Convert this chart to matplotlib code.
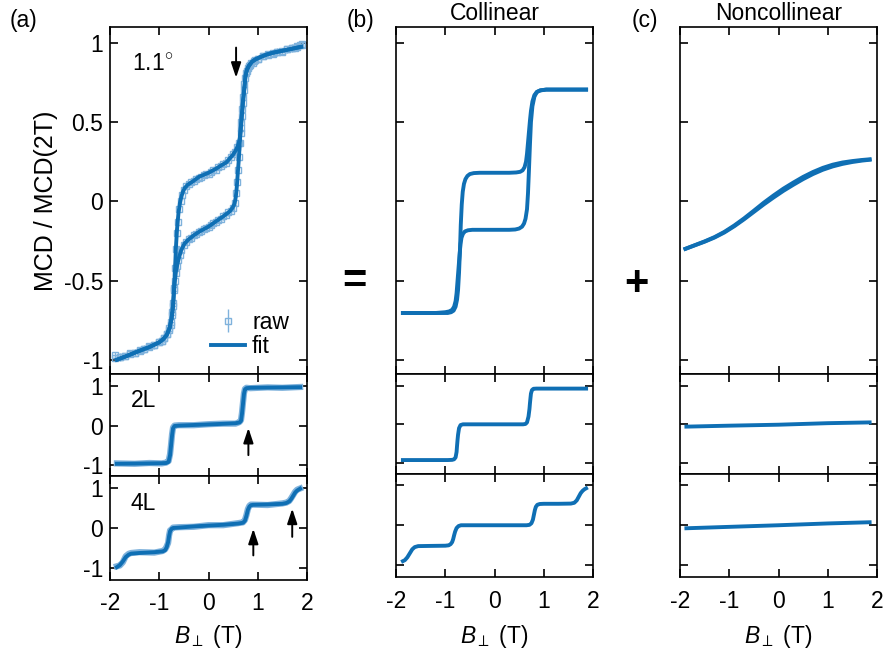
import matplotlib
matplotlib.use("Agg")
import matplotlib.pyplot as plt

plt.rcParams['font.family'] = ['Liberation Sans', 'DejaVu Sans']
plt.rcParams['mathtext.fontset'] = 'custom'
plt.rcParams['mathtext.rm'] = 'Liberation Sans'
plt.rcParams['mathtext.it'] = 'Liberation Sans:italic'
plt.rcParams['axes.unicode_minus'] = False

FIT = '#0f6fb4'
RAW = '#7fb2dc'

# ---------------- data ----------------
# (a) 1.1 deg, fit: descending (upper) branch
a_fit_B_dn = [1.88, 1.70, 1.50, 1.30, 1.17, 1.05, 0.95, 0.88, 0.82, 0.78, 0.75, 0.73, 0.70, 0.68,
              0.66, 0.64, 0.62, 0.60, 0.56, 0.50, 0.43, 0.36, 0.25, 0.15, 0.0, -0.19, -0.32, -0.42,
              -0.48, -0.52, -0.55, -0.58, -0.61, -0.64, -0.66, -0.69, -0.72, -0.75, -0.79, -0.85,
              -0.92, -1.0, -1.2, -1.43, -1.65, -1.86]
a_fit_M_dn = [0.975, 0.963, 0.95, 0.937, 0.925, 0.91, 0.895, 0.88, 0.855, 0.83, 0.79, 0.72, 0.63, 0.556,
              0.48, 0.41, 0.375, 0.355, 0.325, 0.295, 0.27, 0.245, 0.225, 0.205, 0.18, 0.155, 0.125, 0.105,
              0.085, 0.06, 0.03, -0.01, -0.075, -0.18, -0.285, -0.5, -0.66, -0.74, -0.80, -0.845,
              -0.87, -0.89, -0.92, -0.947, -0.975, -1.0]
# (a) 1.1 deg, fit: ascending (lower) branch
a_fit_B_up = [-1.86, -1.65, -1.43, -1.2, -1.0, -0.92, -0.85, -0.79, -0.75, -0.72, -0.69, -0.66, -0.63,
              -0.6, -0.555, -0.49, -0.42, -0.3, -0.18, 0.0, 0.15, 0.3, 0.43, 0.49, 0.53, 0.555, 0.575,
              0.595, 0.615, 0.64, 0.66, 0.68, 0.70, 0.73, 0.75, 0.78, 0.82, 0.88, 0.95, 1.05, 1.17,
              1.3, 1.5, 1.7, 1.88]
a_fit_M_up = [-1.0, -0.975, -0.947, -0.92, -0.89, -0.87, -0.845, -0.80, -0.74, -0.66, -0.52, -0.44, -0.395,
              -0.355, -0.31, -0.268, -0.245, -0.215, -0.19, -0.16, -0.127, -0.095, -0.064, -0.04, -0.015,
              0.03, 0.093, 0.18, 0.262, 0.39, 0.48, 0.556, 0.63, 0.72, 0.79, 0.83, 0.855, 0.88, 0.895,
              0.91, 0.925, 0.937, 0.95, 0.963, 0.975]

# (a) 1.1 deg, raw data
a_raw_B_dn = [1.9, 1.85, 1.8, 1.75, 1.7, 1.6, 1.5, 1.4, 1.3, 1.2, 1.1, 1.0, 0.95, 0.9, 0.85, 0.8,
              0.76, 0.73, 0.71, 0.69, 0.67, 0.65, 0.62, 0.58, 0.54, 0.5, 0.45, 0.4, 0.35, 0.3, 0.25,
              0.2, 0.15, 0.1, 0.05, 0.0, -0.05, -0.1, -0.15, -0.2, -0.25, -0.3, -0.35, -0.4, -0.45,
              -0.5, -0.53, -0.56, -0.59, -0.62, -0.64, -0.66, -0.68, -0.7, -0.72, -0.74, -0.77, -0.8,
              -0.85, -0.9, -0.95, -1.0, -1.1, -1.2, -1.3, -1.4, -1.5, -1.6, -1.7, -1.8, -1.9]
a_raw_M_dn = [0.99, 0.985, 0.975, 0.97, 0.965, 0.958, 0.945, 0.945, 0.93, 0.93, 0.915, 0.9, 0.89, 0.875,
              0.86, 0.84, 0.81, 0.74, 0.66, 0.58, 0.5, 0.43, 0.37, 0.34, 0.31, 0.3, 0.28, 0.26, 0.24,
              0.235, 0.22, 0.215, 0.2, 0.195, 0.185, 0.175, 0.17, 0.165, 0.155, 0.15, 0.14, 0.13, 0.12,
              0.11, 0.095, 0.07, 0.04, 0.0, -0.05, -0.13, -0.2, -0.3, -0.42, -0.55, -0.66, -0.72,
              -0.78, -0.81, -0.84, -0.865, -0.88, -0.89, -0.905, -0.92, -0.93, -0.945, -0.955, -0.965,
              -0.975, -0.985, -0.97]
a_raw_B_up = [-1.9, -1.8, -1.7, -1.6, -1.5, -1.4, -1.3, -1.2, -1.1, -1.0, -0.95, -0.9, -0.85, -0.8,
              -0.77, -0.74, -0.72, -0.7, -0.68, -0.66, -0.64, -0.61, -0.58, -0.55, -0.5, -0.45, -0.4,
              -0.35, -0.3, -0.25, -0.2, -0.15, -0.1, -0.05, 0.0, 0.05, 0.1, 0.15, 0.2, 0.25, 0.3, 0.35,
              0.4, 0.45, 0.5, 0.53, 0.56, 0.58, 0.6, 0.62, 0.64, 0.66, 0.68, 0.7, 0.72, 0.75, 0.78,
              0.82, 0.87, 0.92, 1.0, 1.1, 1.2, 1.3, 1.4, 1.5, 1.6, 1.7, 1.8, 1.9]
a_raw_M_up = [-0.99, -0.98, -0.975, -0.96, -0.955, -0.94, -0.935, -0.915, -0.91, -0.89, -0.88, -0.86,
              -0.84, -0.80, -0.76, -0.70, -0.64, -0.56, -0.5, -0.45, -0.41, -0.37, -0.34, -0.31, -0.275,
              -0.255, -0.24, -0.23, -0.215, -0.205, -0.195, -0.185, -0.175, -0.17, -0.16, -0.15, -0.14,
              -0.13, -0.12, -0.11, -0.095, -0.085, -0.07, -0.06, -0.04, -0.01, 0.05, 0.12, 0.2, 0.28,
              0.37, 0.46, 0.54, 0.62, 0.70, 0.78, 0.825, 0.855, 0.875, 0.885, 0.9, 0.915, 0.925, 0.935,
              0.94, 0.95, 0.96, 0.97, 0.98, 0.985]

# (a) 2L
a2_B = [-1.86, -1.5, -1.2, -0.95, -0.86, -0.81, -0.78, -0.76, -0.74, -0.72, -0.69, -0.6, -0.3, 0.0,
        0.3, 0.55, 0.63, 0.66, 0.68, 0.70, 0.72, 0.74, 0.77, 0.85, 1.2, 1.5, 1.86]
a2_M = [-0.97, -0.965, -0.96, -0.955, -0.95, -0.92, -0.75, -0.5, -0.25, -0.07, -0.01, 0.0, 0.015, 0.03,
        0.045, 0.06, 0.08, 0.12, 0.3, 0.55, 0.8, 0.92, 0.95, 0.96, 0.965, 0.97, 0.975]
a2_raw_M = [-0.96, -0.97, -0.95, -0.96, -0.94, -0.9, -0.72, -0.48, -0.22, -0.05, 0.0, 0.01, 0.01, 0.035,
            0.05, 0.05, 0.09, 0.14, 0.33, 0.58, 0.82, 0.93, 0.96, 0.95, 0.97, 0.96, 0.98]
# (a) 4L
a4_B = [-1.86, -1.8, -1.74, -1.68, -1.62, -1.57, -1.4, -1.1, -0.93, -0.88, -0.85, -0.82, -0.80, -0.78,
        -0.75, -0.72, -0.6, -0.3, 0.0, 0.3, 0.6, 0.70, 0.74, 0.77, 0.80, 0.83, 0.86, 0.9, 1.2, 1.5,
        1.58, 1.64, 1.68, 1.72, 1.76, 1.80, 1.86]
a4_M = [-0.97, -0.92, -0.83, -0.72, -0.66, -0.635, -0.62, -0.6, -0.58, -0.55, -0.48, -0.35, -0.2, -0.08,
        -0.02, 0.0, 0.01, 0.04, 0.06, 0.08, 0.11, 0.13, 0.18, 0.3, 0.45, 0.53, 0.565, 0.575, 0.585,
        0.6, 0.62, 0.66, 0.72, 0.8, 0.88, 0.93, 0.975]
a4_raw_M = [-0.95, -0.93, -0.85, -0.70, -0.64, -0.62, -0.60, -0.61, -0.57, -0.53, -0.46, -0.37, -0.18,
            -0.06, -0.03, 0.01, 0.02, 0.03, 0.07, 0.07, 0.12, 0.14, 0.2, 0.32, 0.47, 0.55, 0.58, 0.58,
            0.57, 0.61, 0.63, 0.67, 0.74, 0.82, 0.9, 0.95, 0.98]

# (b) collinear 1.1 deg: ascending (lower plateau) and descending (upper plateau)
b_B_up = [-1.86, -1.2, -1.0, -0.92, -0.86, -0.82, -0.79, -0.77, -0.75, -0.73, -0.71, -0.69, -0.67,
          -0.64, -0.6, -0.54, -0.45, -0.3, 0.3, 0.42, 0.5, 0.56, 0.6, 0.63, 0.66, 0.68, 0.70, 0.72,
          0.74, 0.77, 0.81, 0.86, 0.93, 1.05, 1.86]
b_M_up = [-0.705, -0.705, -0.70, -0.695, -0.685, -0.665, -0.63, -0.58, -0.5, -0.42, -0.34, -0.27, -0.23,
          -0.205, -0.19, -0.183, -0.18, -0.18, -0.18, -0.178, -0.172, -0.16, -0.14, -0.11, -0.05, 0.05,
          0.2, 0.36, 0.5, 0.6, 0.66, 0.69, 0.70, 0.705, 0.705]
b_B_dn = [1.86, 1.05, 0.93, 0.86, 0.81, 0.77, 0.74, 0.72, 0.70, 0.68, 0.66, 0.64, 0.61, 0.57, 0.52,
          0.44, 0.3, -0.3, -0.42, -0.5, -0.55, -0.59, -0.62, -0.645, -0.665, -0.685, -0.70, -0.72,
          -0.74, -0.76, -0.79, -0.83, -0.88, -0.95, -1.2, -1.86]
b_M_dn = [0.705, 0.705, 0.70, 0.69, 0.67, 0.63, 0.57, 0.51, 0.44, 0.37, 0.30, 0.25, 0.215, 0.195, 0.186,
          0.182, 0.18, 0.18, 0.178, 0.172, 0.16, 0.14, 0.11, 0.06, -0.02, -0.15, -0.3, -0.45, -0.56,
          -0.62, -0.665, -0.69, -0.70, -0.705, -0.705, -0.705]
# (b) 2L, 4L
b2_B = [-1.86, -1.2, -0.95, -0.86, -0.82, -0.79, -0.77, -0.76, -0.75, -0.74, -0.72, -0.69, -0.64, 0.0,
        0.58, 0.63, 0.66, 0.69, 0.71, 0.72, 0.73, 0.74, 0.76, 0.79, 0.85, 1.2, 1.86]
b2_M = [-0.93, -0.93, -0.93, -0.925, -0.91, -0.86, -0.72, -0.55, -0.4, -0.27, -0.1, -0.02, 0.0, 0.0,
        0.0, 0.01, 0.05, 0.2, 0.4, 0.55, 0.68, 0.8, 0.89, 0.925, 0.93, 0.93, 0.93]
b4_B = [-1.86, -1.82, -1.77, -1.72, -1.67, -1.62, -1.55, -1.3, -1.0, -0.93, -0.89, -0.86, -0.84,
        -0.82, -0.80, -0.77, -0.73, -0.68, -0.5, 0.0, 0.65, 0.71, 0.75, 0.78, 0.80, 0.82, 0.84, 0.87,
        0.92, 1.0, 1.3, 1.55, 1.62, 1.67, 1.71, 1.75, 1.79, 1.83, 1.86]
b4_M = [-0.895, -0.87, -0.8, -0.7, -0.6, -0.545, -0.52, -0.515, -0.51, -0.5, -0.47, -0.42, -0.35,
        -0.25, -0.16, -0.07, -0.02, 0.0, 0.0, 0.0, 0.0, 0.01, 0.05, 0.14, 0.26, 0.38, 0.46, 0.51,
        0.53, 0.535, 0.535, 0.54, 0.56, 0.62, 0.71, 0.8, 0.86, 0.9, 0.92]

# (c) noncollinear
c_B = [-1.89, -1.7, -1.5, -1.3, -1.1, -0.9, -0.7, -0.5, -0.3, -0.1, 0.1, 0.3, 0.5, 0.7, 0.9, 1.1,
       1.3, 1.5, 1.7, 1.85]
c_M_up = [-0.30, -0.278, -0.255, -0.229, -0.197, -0.158, -0.114, -0.067, -0.02, 0.024, 0.066, 0.104,
          0.14, 0.172, 0.199, 0.22, 0.236, 0.248, 0.257, 0.262]
c_M_dn = [-0.30, -0.277, -0.253, -0.226, -0.193, -0.153, -0.108, -0.059, -0.009, 0.037, 0.080, 0.118,
          0.154, 0.185, 0.211, 0.231, 0.245, 0.254, 0.261, 0.265]
c2_B = [-1.87, -1.0, 0.0, 1.0, 1.85]
c2_M = [-0.06, -0.035, -0.01, 0.03, 0.05]
c4_B = [-1.87, -1.0, 0.0, 1.0, 1.85]
c4_M = [-0.075, -0.04, 0.0, 0.045, 0.075]

xticks = [-2, -1, 0, 1, 2]
xticklabels = ['-2', '-1', '0', '1', '2']
yticks_top = [-1, -0.5, 0, 0.5, 1]
yticklabels_top = ['-1', '-0.5', '0', '0.5', '1']
yticks_low = [-1, 0, 1]
yticklabels_low = ['-1', '0', '1']

# ---------------- figure ----------------
W, H = 886, 654
fig = plt.figure(figsize=(W / 100, H / 100), dpi=100)

def ax_at(l, r, t, b):
    return fig.add_axes([l / W, 1 - b / H, (r - l) / W, (b - t) / H])

TS = 16.5

def style(ax, ylim, yticks, yl, ylabels, xlabels):
    ax.set_xlim(-2, 2)
    ax.set_ylim(*ylim)
    ax.set_xticks(xticks)
    ax.set_yticks(yticks)
    ax.tick_params(direction='in', top=True, right=True, length=6, width=1.2,
                   labelsize=TS, pad=5)
    ax.tick_params(axis='x', pad=9)
    if xlabels:
        ax.set_xticklabels(xticklabels)
    else:
        ax.set_xticklabels([])
    if ylabels:
        ax.set_yticklabels(yl)
    else:
        ax.set_yticklabels([])
    for s in ax.spines.values():
        s.set_linewidth(1.2)

cols = {'a': (110, 307), 'b': (396, 593), 'c': (680, 877)}
rows_a = [(27, 374), (374, 476), (476, 580)]
rows_bc = [(27, 374), (374, 473.5), (473.5, 577)]
ylims = [(-1.09, 1.1), (-1.28, 1.31), (-1.29, 1.29)]
LW = 2.8
ARROW = dict(arrowstyle='-|>,head_length=0.9,head_width=0.3', color='black', lw=1.4,
             shrinkA=0, shrinkB=0)

axes = {}
for key, (l, r) in cols.items():
    rows = rows_a if key == 'a' else rows_bc
    for i, (t, b) in enumerate(rows):
        ax = ax_at(l, r, t, b)
        yt = yticks_top if i == 0 else yticks_low
        yl = yticklabels_top if i == 0 else yticklabels_low
        style(ax, ylims[i], yt, yl, key == 'a', i == 2)
        axes[(key, i)] = ax

# (a) top
ax = axes[('a', 0)]
h_raw = ax.errorbar(a_raw_B_dn, a_raw_M_dn, yerr=0.02, fmt='s', ms=4, mfc='none', mec=RAW, mew=1,
                    ecolor=RAW, elinewidth=1, zorder=2)
ax.errorbar(a_raw_B_up, a_raw_M_up, yerr=0.02, fmt='s', ms=4, mfc='none', mec=RAW, mew=1,
            ecolor=RAW, elinewidth=1, zorder=2)
h_fit, = ax.plot(a_fit_B_dn, a_fit_M_dn, color=FIT, lw=LW, zorder=3)
ax.plot(a_fit_B_up, a_fit_M_up, color=FIT, lw=LW, zorder=3)
ax.set_ylabel('MCD / MCD(2T)', fontsize=18, labelpad=4)
ax.text(-1.56, 0.87, '1.1$^{\\circ}$', fontsize=TS, va='center', ha='left')
ax.annotate('', xy=(0.56, 0.78), xytext=(0.56, 0.97), arrowprops=ARROW)
ax.legend([h_raw, h_fit], ['raw', 'fit'], loc='lower right', bbox_to_anchor=(0.99, 0.0),
          frameon=False, fontsize=TS, handlelength=1.5, handletextpad=0.3, labelspacing=0.05,
          borderaxespad=0.3)

# (a) 2L
ax = axes[('a', 1)]
ax.plot(a2_B, a2_raw_M, color=RAW, lw=4.5, zorder=2)
ax.plot(a2_B, a2_M, color=FIT, lw=LW, zorder=3)
ax.text(-1.58, 0.63, '2L', fontsize=TS, va='center', ha='left')
ax.annotate('', xy=(0.81, -0.06), xytext=(0.81, -0.75), arrowprops=ARROW)

# (a) 4L
ax = axes[('a', 2)]
ax.plot(a4_B, a4_raw_M, color=RAW, lw=4.5, zorder=2)
ax.plot(a4_B, a4_M, color=FIT, lw=LW, zorder=3)
ax.text(-1.58, 0.6, '4L', fontsize=TS, va='center', ha='left')
ax.annotate('', xy=(0.91, -0.02), xytext=(0.91, -0.68), arrowprops=ARROW)
ax.annotate('', xy=(1.70, 0.48), xytext=(1.70, -0.22), arrowprops=ARROW)

# (b)
axes[('b', 0)].plot(b_B_up, b_M_up, color=FIT, lw=LW)
axes[('b', 0)].plot(b_B_dn, b_M_dn, color=FIT, lw=LW)
axes[('b', 1)].plot(b2_B, b2_M, color=FIT, lw=LW)
axes[('b', 2)].plot(b4_B, b4_M, color=FIT, lw=LW)

# (c)
axes[('c', 0)].plot(c_B, c_M_up, color=FIT, lw=LW)
axes[('c', 0)].plot(c_B, c_M_dn, color=FIT, lw=LW)
axes[('c', 1)].plot(c2_B, c2_M, color=FIT, lw=LW)
axes[('c', 2)].plot(c4_B, c4_M, color=FIT, lw=LW)

# column labels
for key, (l, r) in cols.items():
    fig.text((l + r) / 2 / W, 1 - 637 / H, r'$B_{\perp}$ (T)', fontsize=TS, ha='center', va='center')

fig.text(10 / W, 1 - 20 / H, '(a)', fontsize=TS, ha='left', va='center')
fig.text(347 / W, 1 - 20 / H, '(b)', fontsize=TS, ha='left', va='center')
fig.text(632 / W, 1 - 20 / H, '(c)', fontsize=TS, ha='left', va='center')
fig.text((396 + 593) / 2 / W, 1 - 14 / H, 'Collinear', fontsize=TS, ha='center', va='center')
fig.text((680 + 877) / 2 / W, 1 - 14 / H, 'Noncollinear', fontsize=TS, ha='center', va='center')
fig.text(354 / W, 1 - 282 / H, '=', fontsize=30, fontweight='bold', ha='center', va='center')
fig.text(636 / W, 1 - 284 / H, '+', fontsize=30, fontweight='bold', ha='center', va='center')

fig.savefig('out.png', dpi=100)
